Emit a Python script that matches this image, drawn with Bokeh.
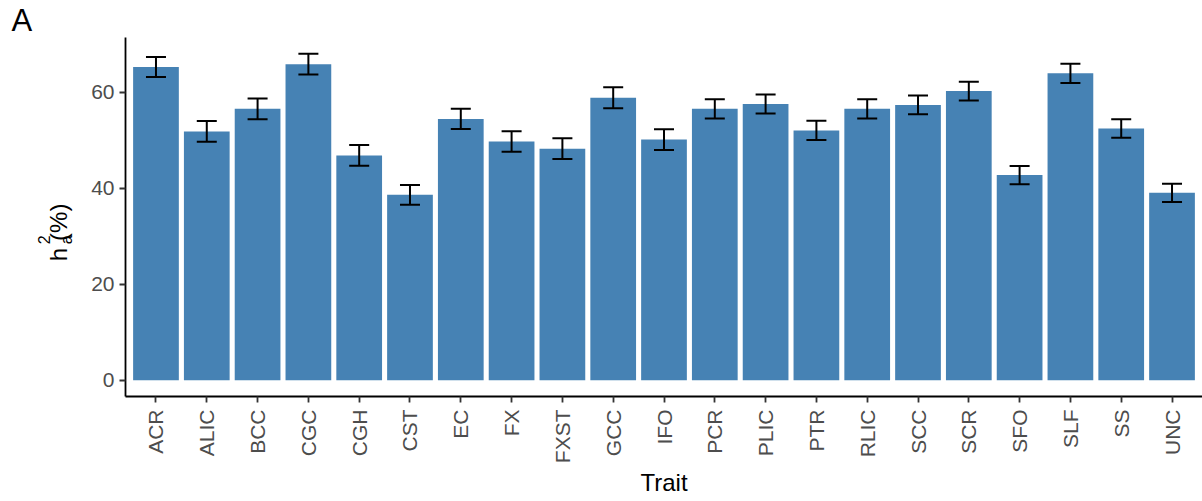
import math
from bokeh.plotting import figure
from bokeh.models import (ColumnDataSource, Whisker, TeeHead, FixedTicker, Range1d,
                          FactorRange, LinearAxis)
from bokeh.embed import file_html
from bokeh.resources import INLINE

# ---- data ----
traits = ["ACR", "ALIC", "BCC", "CGC", "CGH", "CST", "EC", "FX", "FXST", "GCC", "IFO",
          "PCR", "PLIC", "PTR", "RLIC", "SCC", "SCR", "SFO", "SLF", "SS", "UNC"]
h2 = [65.2, 51.8, 56.5, 65.8, 46.8, 38.6, 54.4, 49.7, 48.2, 58.8, 50.1,
      56.5, 57.5, 52.0, 56.5, 57.3, 60.2, 42.7, 63.9, 52.4, 39.0]
se = [2.1, 2.15, 2.15, 2.15, 2.15, 2.05, 2.1, 2.15, 2.15, 2.2, 2.15,
      2.0, 2.0, 2.0, 2.0, 1.95, 1.95, 1.9, 2.0, 1.95, 1.9]
y_ticks = [0, 20, 40, 60]

lower = [h - s for h, s in zip(h2, se)]
upper = [h + s for h, s in zip(h2, se)]
src = ColumnDataSource(dict(trait=traits, h2=h2, lower=lower, upper=upper))

# ---- layout ----
FONT = "Liberation Sans"
W, H = 1202, 501
ML, MT, MB, MR = 125, 35, 105, 0
T, B = MT, H - MB

ymax = max(upper)
ys, ye = -0.05 * ymax, 1.05 * ymax

p = figure(x_range=FactorRange(factors=traits, range_padding=0.1, range_padding_units="absolute"),
           y_range=Range1d(ys, ye), width=W, height=H,
           output_backend="svg", toolbar_location=None,
           min_border_left=ML, min_border_right=MR, min_border_top=MT, min_border_bottom=MB)

p.vbar(x="trait", top="h2", width=0.9, source=src, fill_color="#4682B4", line_color=None)

head_kw = dict(size=20, line_width=2, line_color="black")
wh = Whisker(base="trait", upper="upper", lower="lower", source=src,
             line_color="black", line_width=2,
             upper_head=TeeHead(**head_kw), lower_head=TeeHead(**head_kw))
wh.level = "overlay"
p.add_layout(wh)

xax = p.xaxis[0]
yax = p.yaxis[0]
for ax in (xax, yax):
    ax.axis_line_color = "black"
    ax.axis_line_width = 1.8
    ax.major_tick_line_color = "#333333"
    ax.major_tick_line_width = 1.8
    ax.major_tick_out = 6
    ax.major_tick_in = 0
    ax.minor_tick_line_color = None
    ax.major_label_text_font = FONT
    ax.major_label_text_font_size = "21px"
    ax.major_label_text_color = "#4D4D4D"
    ax.axis_label_text_font = FONT
    ax.axis_label_text_font_size = "24px"
    ax.axis_label_text_font_style = "normal"
    ax.axis_label_text_color = "black"

yax.ticker = FixedTicker(ticks=y_ticks)
yax.major_label_standoff = 5
yax.axis_label = None

xax.major_label_orientation = math.pi / 2
xax.major_label_standoff = 7
xax.axis_label = "Trait"
xax.axis_label_standoff = 3


# ---- y title h^2_a (%), built from rotated tick labels of bare extra axes ----
def dy(py):
    return round(ys + (B - py) / (B - T) * (ye - ys), 2)


def title_axis(pieces, size, standoff):
    ticks = [dy(py) for _, py in pieces]
    ax = LinearAxis(ticker=FixedTicker(ticks=ticks),
                    major_label_overrides={t: txt for t, (txt, _) in zip(ticks, pieces)},
                    axis_line_color=None, major_tick_line_color=None,
                    minor_tick_line_color=None, major_tick_out=0, major_tick_in=0,
                    major_label_orientation=math.pi / 2, major_label_standoff=standoff,
                    major_label_text_font=FONT, major_label_text_font_size=size,
                    major_label_text_color="black", axis_label=None)
    p.add_layout(ax, "left")


title_axis([("a", 234)], "16px", 22)                    # subscript
title_axis([("h", 246.5), ("(%)", 202)], "24px", -12)    # main letters
title_axis([("2", 234)], "16px", -16)                   # superscript

# panel tag "A" at the top-left corner
p.title.text = "A"
p.title.align = "left"
p.title.offset = 11 - ML
p.title.standoff = 0
p.title.vertical_align = "bottom"
p.title.text_font = FONT
p.title.text_font_size = "31px"
p.title.text_font_style = "normal"
p.title.text_color = "black"

p.xgrid.visible = False
p.ygrid.visible = False
p.outline_line_color = None

open("out.html", "w").write(file_html(p, INLINE))
